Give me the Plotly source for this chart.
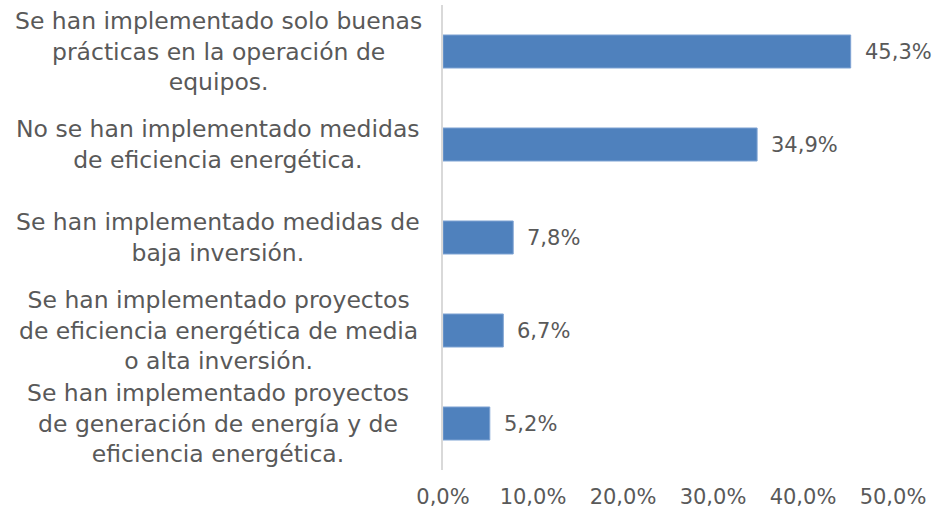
import plotly.graph_objects as go

categories = [
    "Se han implementado solo buenas<br>prácticas en la operación de<br>equipos.",
    "No se han implementado medidas<br>de eficiencia energética.",
    "Se han implementado medidas de<br>baja inversión.",
    "Se han implementado proyectos<br>de eficiencia energética de media<br>o alta inversión.",
    "Se han implementado proyectos<br>de generación de energía y de<br>eficiencia energética.",
]
values = [0.453, 0.349, 0.078, 0.067, 0.052]
value_labels = ["45,3%", "34,9%", "7,8%", "6,7%", "5,2%"]
tick_vals = [0, 0.1, 0.2, 0.3, 0.4, 0.5]

FONT = "DejaVu Sans"
TXT = "#595959"

fig = go.Figure(go.Bar(
    y=list(range(len(categories))), x=values, orientation="h",
    marker=dict(color="#4F81BD", line=dict(color="#7FA3D3", width=1)),
    width=0.355,
))

for i, (v, t) in enumerate(zip(values, value_labels)):
    fig.add_annotation(x=v, y=i, xref="x", yref="y", text=t, showarrow=False,
                       xanchor="left", xshift=12, font=dict(family=FONT, size=21, color=TXT))
for i, c in enumerate(categories):
    fig.add_annotation(x=-0.5, y=i, xref="paper", yref="y", text=c, showarrow=False,
                       xanchor="center", align="center",
                       font=dict(family=FONT, size=23.5, color=TXT))

fig.update_layout(
    width=935, height=516,
    margin=dict(l=443, r=42, t=5, b=46),
    paper_bgcolor="white", plot_bgcolor="white",
    separators=",.",
    showlegend=False,
    font=dict(family=FONT, size=20, color=TXT),
)
fig.update_xaxes(range=[0, 0.5], tickvals=tick_vals, tickformat=".1%",
                 showgrid=False, zeroline=False, showline=False,
                 tickfont=dict(family=FONT, size=21, color=TXT), ticks="", ticklen=0,
                 ticklabelstandoff=12)
fig.update_yaxes(range=[4.5, -0.5], showticklabels=False, showgrid=False,
                 zeroline=False, showline=True, linecolor="#D9D9D9", linewidth=2, ticks="")

fig.write_html("out.html", config={"displayModeBar": False},
               post_script="document.body.style.margin='0';")
